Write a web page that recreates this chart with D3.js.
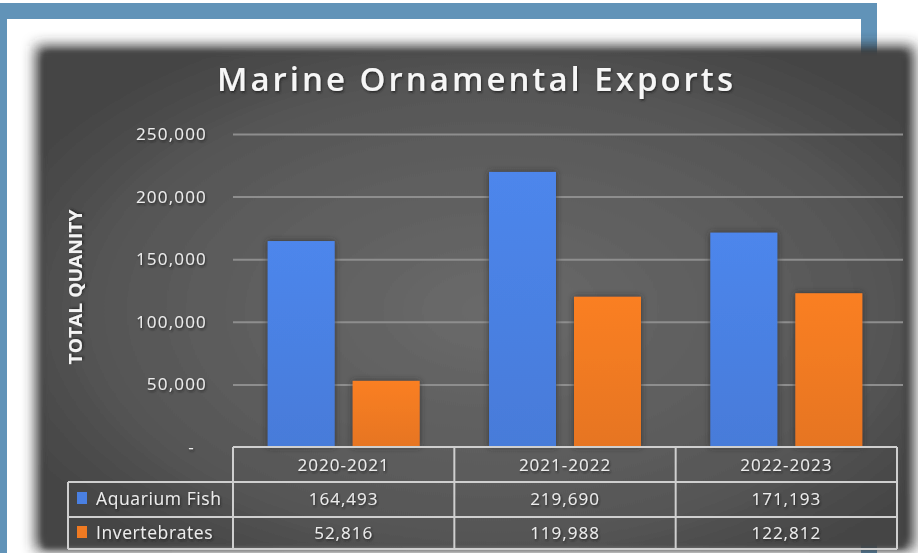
<!DOCTYPE html>
<html>
<head>
<meta charset="utf-8">
<script src="https://cdn.jsdelivr.net/npm/d3@7"></script>
<style>
  html, body { margin: 0; padding: 0; background: #ffffff; }
  svg { display: block; }
  text { font-family: "Open Sans", "Liberation Sans", sans-serif; }
</style>
</head>
<body>
<svg id="chart" width="918" height="553"></svg>
<script>
// Export quantities by season
const categories = ["2020-2021", "2021-2022", "2022-2023"];
const seriesNames = ["Aquarium Fish", "Invertebrates"];
const aquariumFish = [164493, 219690, 171193];
const invertebrates = [52816, 119988, 122812];
const yTicks = [0, 50000, 100000, 150000, 200000, 250000];
const seriesColors = ["#4a80e2", "#f07a22"];
const chartTitle = "Marine Ornamental Exports";
const yTitle = "TOTAL QUANITY";

const seriesValues = [aquariumFish, invertebrates];

const svg = d3.select("#chart");
const defs = svg.append("defs");

// panel background gradient
const rg = defs.append("radialGradient").attr("id", "panelGrad")
  .attr("cx", "52%").attr("cy", "52%").attr("r", "62%");
rg.append("stop").attr("offset", "0%").attr("stop-color", "#6a6a6a");
rg.append("stop").attr("offset", "70%").attr("stop-color", "#575757");
rg.append("stop").attr("offset", "100%").attr("stop-color", "#444444");

defs.append("filter").attr("id", "shadowBlur")
  .attr("x", "-10%").attr("y", "-10%").attr("width", "120%").attr("height", "120%")
  .append("feGaussianBlur").attr("stdDeviation", 7);
defs.append("filter").attr("id", "softEdge")
  .attr("x", "-5%").attr("y", "-5%").attr("width", "110%").attr("height", "110%")
  .append("feGaussianBlur").attr("stdDeviation", 2.5);

const textShadow = defs.append("filter").attr("id", "textShadow")
  .attr("x", "-10%").attr("y", "-30%").attr("width", "120%").attr("height", "160%");
textShadow.append("feDropShadow").attr("dx", 1).attr("dy", 1.5)
  .attr("stdDeviation", 1.2).attr("flood-color", "#1a1a1a").attr("flood-opacity", 0.85);

const barShadow = defs.append("filter").attr("id", "barShadow")
  .attr("x", "-20%").attr("y", "-20%").attr("width", "140%").attr("height", "140%");
barShadow.append("feDropShadow").attr("dx", 0).attr("dy", 0)
  .attr("stdDeviation", 3).attr("flood-color", "#2a2a2a").attr("flood-opacity", 0.8);

seriesColors.forEach((c, i) => {
  const g = defs.append("linearGradient").attr("id", "barGrad" + i)
    .attr("x1", 0).attr("y1", 0).attr("x2", 0).attr("y2", 1);
  g.append("stop").attr("offset", "0%").attr("stop-color", d3.color(c).brighter(0.12));
  g.append("stop").attr("offset", "100%").attr("stop-color", d3.color(c).darker(0.12));
});

// outer blue frame
svg.append("rect").attr("x", -10).attr("y", 3).attr("width", 887).attr("height", 600)
  .attr("fill", "#6193b8");
svg.append("rect").attr("x", 7).attr("y", 19).attr("width", 854).attr("height", 600)
  .attr("fill", "#ffffff");

// chart panel with soft shadow
svg.append("rect").attr("x", 36).attr("y", 46).attr("width", 878).attr("height", 504)
  .attr("fill", "#333333").attr("filter", "url(#shadowBlur)");
svg.append("rect").attr("x", 43).attr("y", 52).attr("width", 862).attr("height", 496)
  .attr("fill", "url(#panelGrad)").attr("filter", "url(#softEdge)");

// scales
const plotLeft = 233, plotRight = 897, gridRight = 903;
const y = d3.scaleLinear().domain([0, 250000]).range([447, 134]);
const x = d3.scaleBand().domain(categories).range([plotLeft, plotRight]);
const xs = d3.scaleBand().domain(seriesNames).range([0, x.bandwidth()])
  .paddingInner(0.212).paddingOuter(0.408);

// gridlines
const grid = svg.append("g").attr("transform", `translate(${plotLeft},0)`)
  .call(d3.axisLeft(y).tickValues(yTicks.filter(d => d > 0))
    .tickSize(-(gridRight - plotLeft)).tickFormat(""));
grid.select(".domain").remove();
grid.selectAll(".tick line").attr("stroke", "#8e8e8e").attr("stroke-width", 2);

// y axis labels
const yAxis = svg.append("g").attr("transform", "translate(207,0)")
  .call(d3.axisLeft(y).tickValues(yTicks).tickSize(0).tickPadding(0)
    .tickFormat(d => d === 0 ? "-" : d3.format(",")(d)));
yAxis.select(".domain").remove();
yAxis.selectAll(".tick text")
  .attr("fill", "#ececec").attr("font-size", 17).attr("letter-spacing", 1.2)
  .attr("filter", "url(#textShadow)")
  .attr("dx", d => d === 0 ? -12 : 0);

// y axis title
svg.append("text")
  .attr("transform", "translate(82,287) rotate(-90)")
  .attr("text-anchor", "middle")
  .attr("fill", "#f4f4f4").attr("font-size", 18).attr("font-weight", 700)
  .attr("textLength", 155).attr("lengthAdjust", "spacingAndGlyphs")
  .attr("filter", "url(#textShadow)")
  .text(yTitle);

// chart title
svg.append("text")
  .attr("x", 475).attr("y", 91)
  .attr("text-anchor", "middle")
  .attr("fill", "#f6f6f6").attr("font-size", 33).attr("font-weight", 600)
  .attr("textLength", 516).attr("lengthAdjust", "spacing")
  .attr("filter", "url(#textShadow)")
  .text(chartTitle);

// bars
const barGroups = svg.append("g").selectAll("g")
  .data(seriesNames).join("g")
  .attr("fill", (d, i) => "url(#barGrad" + i + ")")
  .attr("filter", "url(#barShadow)");
barGroups.selectAll("rect")
  .data((s, si) => categories.map((c, ci) => ({ cat: c, series: s, value: seriesValues[si][ci] })))
  .join("rect")
  .attr("x", d => x(d.cat) + xs(d.series))
  .attr("width", xs.bandwidth())
  .attr("y", d => y(d.value))
  .attr("height", d => y(0) - y(d.value));

// data table
const rowTop = [447, 482, 517];
const rowBottom = 549;
const legendLeft = 68;
const lineColor = "#cfcfcf";
const table = svg.append("g").attr("stroke", lineColor).attr("stroke-width", 2).attr("fill", "none");

// horizontal lines
table.append("line").attr("x1", plotLeft).attr("x2", plotRight).attr("y1", rowTop[0]).attr("y2", rowTop[0]);
[rowTop[1], rowTop[2], rowBottom].forEach(yy => {
  table.append("line").attr("x1", legendLeft).attr("x2", plotRight).attr("y1", yy).attr("y2", yy);
});
// vertical lines
table.append("line").attr("x1", legendLeft).attr("x2", legendLeft).attr("y1", rowTop[1]).attr("y2", rowBottom);
categories.forEach(c => {
  table.append("line").attr("x1", x(c)).attr("x2", x(c)).attr("y1", rowTop[0]).attr("y2", rowBottom);
});
table.append("line").attr("x1", plotRight).attr("x2", plotRight).attr("y1", rowTop[0]).attr("y2", rowBottom);

const cellText = svg.append("g")
  .attr("fill", "#ececec").attr("font-size", 17).attr("letter-spacing", 1)
  .attr("filter", "url(#textShadow)");

// header row
cellText.selectAll("text.hdr").data(categories).join("text")
  .attr("class", "hdr")
  .attr("x", d => x(d) + x.bandwidth() / 2).attr("y", 471)
  .attr("text-anchor", "middle")
  .text(d => d);

// value rows
const rowBase = [505, 539];
seriesNames.forEach((s, si) => {
  cellText.selectAll("text.v" + si).data(seriesValues[si]).join("text")
    .attr("class", "v" + si)
    .attr("x", (d, ci) => x(categories[ci]) + x.bandwidth() / 2).attr("y", rowBase[si])
    .attr("text-anchor", "middle")
    .text(d => d3.format(",")(d));

  svg.append("rect").attr("x", 77).attr("y", rowBase[si] - 13).attr("width", 10).attr("height", 12)
    .attr("fill", seriesColors[si]);
  svg.append("text").attr("x", 96).attr("y", rowBase[si])
    .attr("fill", "#ececec").attr("font-size", 17.5).attr("letter-spacing", 0.6)
    .attr("filter", "url(#textShadow)")
    .text(s);
});
</script>
</body>
</html>
